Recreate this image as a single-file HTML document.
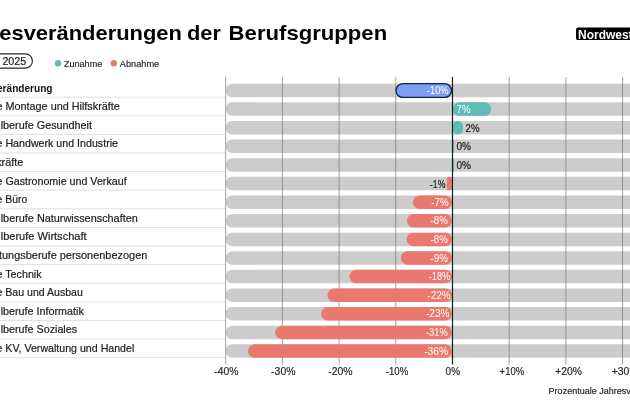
<!DOCTYPE html>
<html lang="de"><head><meta charset="utf-8"><title>Jahresveränderungen der Berufsgruppen</title>
<style>html,body{margin:0;padding:0;background:#fff;overflow:hidden}svg{display:block}</style></head>
<body>
<svg width="630" height="412" viewBox="0 0 630 412" font-family="'Liberation Sans', sans-serif">
<rect width="630" height="412" fill="#fff"/>
<text y="39.7" font-size="20.4" font-weight="700" fill="#000"><tspan x="-0.7" textLength="182.6" lengthAdjust="spacingAndGlyphs">esveränderungen</tspan> <tspan x="187.0" textLength="34.0" lengthAdjust="spacingAndGlyphs">der</tspan> <tspan x="228.6" textLength="158.6" lengthAdjust="spacingAndGlyphs">Berufsgruppen</tspan></text>
<rect x="576" y="27.5" width="70" height="12.6" rx="2.2" fill="#000"/>
<text x="578.0" y="38.5" font-size="11.9" font-weight="700" fill="#fff" textLength="54.6" lengthAdjust="spacingAndGlyphs">Nordwest</text>
<rect x="-20" y="53.8" width="52.4" height="14.3" rx="7.15" fill="#fff" stroke="#262626" stroke-width="1.15"/>
<text x="2.4" y="64.6" font-size="10.6" fill="#222222" stroke="#222222" stroke-width="0.2" textLength="23.8" lengthAdjust="spacingAndGlyphs">2025</text>
<circle cx="58" cy="63.3" r="3.2" fill="#5cbdb5"/>
<text x="64" y="66.7" font-size="9.2" fill="#222222" stroke="#222222" stroke-width="0.15" textLength="38.2" lengthAdjust="spacingAndGlyphs">Zunahme</text>
<circle cx="113.8" cy="63.3" r="3.2" fill="#e9796e"/>
<text x="119.8" y="66.7" font-size="9.2" fill="#222222" stroke="#222222" stroke-width="0.15" textLength="39.4" lengthAdjust="spacingAndGlyphs">Abnahme</text>
<rect x="225.9" y="83.75" width="420" height="13.5" rx="6" fill="#cccccc"/>
<line x1="0" x2="225.5" y1="97.15" y2="97.15" stroke="#dcdcdc" stroke-width="0.9"/>
<text x="-3.0" y="92.20" font-size="10.5" font-weight="700" fill="#111" textLength="55.5" lengthAdjust="spacingAndGlyphs">eränderung</text>
<rect x="225.9" y="102.36" width="420" height="13.5" rx="6" fill="#cccccc"/>
<line x1="0" x2="225.5" y1="115.76" y2="115.76" stroke="#dcdcdc" stroke-width="0.9"/>
<text x="-3.5" y="110.25" font-size="10.5" fill="#222222" stroke="#222222" stroke-width="0.2" textLength="123.3" lengthAdjust="spacingAndGlyphs">e Montage und Hilfskräfte</text>
<rect x="225.9" y="120.97" width="420" height="13.5" rx="6" fill="#cccccc"/>
<line x1="0" x2="225.5" y1="134.37" y2="134.37" stroke="#dcdcdc" stroke-width="0.9"/>
<text x="0.7" y="128.85" font-size="10.5" fill="#222222" stroke="#222222" stroke-width="0.2" textLength="91.3" lengthAdjust="spacingAndGlyphs">lberufe Gesundheit</text>
<rect x="225.9" y="139.58" width="420" height="13.5" rx="6" fill="#cccccc"/>
<line x1="0" x2="225.5" y1="152.98" y2="152.98" stroke="#dcdcdc" stroke-width="0.9"/>
<text x="-3.5" y="147.45" font-size="10.5" fill="#222222" stroke="#222222" stroke-width="0.2" textLength="121.5" lengthAdjust="spacingAndGlyphs">e Handwerk und Industrie</text>
<rect x="225.9" y="158.19" width="420" height="13.5" rx="6" fill="#cccccc"/>
<line x1="0" x2="225.5" y1="171.59" y2="171.59" stroke="#dcdcdc" stroke-width="0.9"/>
<text x="-3.85" y="166.05" font-size="10.5" fill="#222222" stroke="#222222" stroke-width="0.2" textLength="27.2" lengthAdjust="spacingAndGlyphs">kräfte</text>
<rect x="225.9" y="176.80" width="420" height="13.5" rx="6" fill="#cccccc"/>
<line x1="0" x2="225.5" y1="190.20" y2="190.20" stroke="#dcdcdc" stroke-width="0.9"/>
<text x="-3.5" y="184.65" font-size="10.5" fill="#222222" stroke="#222222" stroke-width="0.2" textLength="130.1" lengthAdjust="spacingAndGlyphs">e Gastronomie und Verkauf</text>
<rect x="225.9" y="195.41" width="420" height="13.5" rx="6" fill="#cccccc"/>
<line x1="0" x2="225.5" y1="208.81" y2="208.81" stroke="#dcdcdc" stroke-width="0.9"/>
<text x="-3.5" y="203.25" font-size="10.5" fill="#222222" stroke="#222222" stroke-width="0.2" textLength="30.8" lengthAdjust="spacingAndGlyphs">e Büro</text>
<rect x="225.9" y="214.02" width="420" height="13.5" rx="6" fill="#cccccc"/>
<line x1="0" x2="225.5" y1="227.42" y2="227.42" stroke="#dcdcdc" stroke-width="0.9"/>
<text x="0.7" y="221.85" font-size="10.5" fill="#222222" stroke="#222222" stroke-width="0.2" textLength="137.1" lengthAdjust="spacingAndGlyphs">lberufe Naturwissenschaften</text>
<rect x="225.9" y="232.63" width="420" height="13.5" rx="6" fill="#cccccc"/>
<line x1="0" x2="225.5" y1="246.03" y2="246.03" stroke="#dcdcdc" stroke-width="0.9"/>
<text x="0.7" y="240.45" font-size="10.5" fill="#222222" stroke="#222222" stroke-width="0.2" textLength="85.9" lengthAdjust="spacingAndGlyphs">lberufe Wirtschaft</text>
<rect x="225.9" y="251.24" width="420" height="13.5" rx="6" fill="#cccccc"/>
<line x1="0" x2="225.5" y1="264.64" y2="264.64" stroke="#dcdcdc" stroke-width="0.9"/>
<text x="-1.0" y="259.05" font-size="10.5" fill="#222222" stroke="#222222" stroke-width="0.2" textLength="148.3" lengthAdjust="spacingAndGlyphs">tungsberufe personenbezogen</text>
<rect x="225.9" y="269.85" width="420" height="13.5" rx="6" fill="#cccccc"/>
<line x1="0" x2="225.5" y1="283.25" y2="283.25" stroke="#dcdcdc" stroke-width="0.9"/>
<text x="-3.5" y="277.65" font-size="10.5" fill="#222222" stroke="#222222" stroke-width="0.2" textLength="45.1" lengthAdjust="spacingAndGlyphs">e Technik</text>
<rect x="225.9" y="288.46" width="420" height="13.5" rx="6" fill="#cccccc"/>
<line x1="0" x2="225.5" y1="301.86" y2="301.86" stroke="#dcdcdc" stroke-width="0.9"/>
<text x="-3.5" y="296.25" font-size="10.5" fill="#222222" stroke="#222222" stroke-width="0.2" textLength="86.3" lengthAdjust="spacingAndGlyphs">e Bau und Ausbau</text>
<rect x="225.9" y="307.07" width="420" height="13.5" rx="6" fill="#cccccc"/>
<line x1="0" x2="225.5" y1="320.47" y2="320.47" stroke="#dcdcdc" stroke-width="0.9"/>
<text x="0.7" y="314.85" font-size="10.5" fill="#222222" stroke="#222222" stroke-width="0.2" textLength="83.1" lengthAdjust="spacingAndGlyphs">lberufe Informatik</text>
<rect x="225.9" y="325.68" width="420" height="13.5" rx="6" fill="#cccccc"/>
<line x1="0" x2="225.5" y1="339.08" y2="339.08" stroke="#dcdcdc" stroke-width="0.9"/>
<text x="0.7" y="333.45" font-size="10.5" fill="#222222" stroke="#222222" stroke-width="0.2" textLength="76.4" lengthAdjust="spacingAndGlyphs">lberufe Soziales</text>
<rect x="225.9" y="344.29" width="420" height="13.5" rx="6" fill="#cccccc"/>
<line x1="0" x2="225.5" y1="357.69" y2="357.69" stroke="#dcdcdc" stroke-width="0.9"/>
<text x="-3.5" y="352.05" font-size="10.5" fill="#222222" stroke="#222222" stroke-width="0.2" textLength="137.8" lengthAdjust="spacingAndGlyphs">e KV, Verwaltung und Handel</text>
<line x1="225.70" x2="225.70" y1="77" y2="364.6" stroke="#707070" stroke-width="0.65"/>
<line x1="282.40" x2="282.40" y1="77" y2="364.6" stroke="#707070" stroke-width="0.65"/>
<line x1="339.10" x2="339.10" y1="77" y2="364.6" stroke="#707070" stroke-width="0.65"/>
<line x1="395.80" x2="395.80" y1="77" y2="364.6" stroke="#707070" stroke-width="0.65"/>
<line x1="509.20" x2="509.20" y1="77" y2="364.6" stroke="#707070" stroke-width="0.65"/>
<line x1="565.90" x2="565.90" y1="77" y2="364.6" stroke="#707070" stroke-width="0.65"/>
<line x1="622.60" x2="622.60" y1="77" y2="364.6" stroke="#707070" stroke-width="0.65"/>
<rect x="396.00" y="83.65" width="55.60" height="13.8" rx="6.9" fill="#7d9ef3" stroke="#17214d" stroke-width="1.3"/>
<text x="426.80" y="94.05" font-size="10.1" fill="#fff" textLength="21.9" lengthAdjust="spacingAndGlyphs">-10%</text>
<rect x="452.80" y="102.36" width="38.40" height="13.5" rx="6.75" fill="#5cbdb5"/>
<text x="456.60" y="112.66" font-size="10.1" fill="#fff" textLength="14.0" lengthAdjust="spacingAndGlyphs">7%</text>
<rect x="452.80" y="120.97" width="10.10" height="13.5" rx="5.05" fill="#5cbdb5"/>
<text x="465.50" y="131.72" font-size="10.0" fill="#222222" stroke="#222222" stroke-width="0.2" textLength="14.0" lengthAdjust="spacingAndGlyphs">2%</text>
<rect x="453.00" y="139.58" width="1.00" height="13.5" rx="0.50" fill="#5cbdb5"/>
<text x="456.40" y="150.33" font-size="10.0" fill="#222222" stroke="#222222" stroke-width="0.2" textLength="14.5" lengthAdjust="spacingAndGlyphs">0%</text>
<rect x="453.00" y="158.19" width="1.00" height="13.5" rx="0.50" fill="#5cbdb5"/>
<text x="456.40" y="168.94" font-size="10.0" fill="#222222" stroke="#222222" stroke-width="0.2" textLength="14.5" lengthAdjust="spacingAndGlyphs">0%</text>
<rect x="446.90" y="176.80" width="5.00" height="13.5" rx="2.50" fill="#e9796e"/>
<text x="429.90" y="187.55" font-size="10.0" fill="#222222" stroke="#222222" stroke-width="0.2" textLength="15.5" lengthAdjust="spacingAndGlyphs">-1%</text>
<rect x="412.90" y="195.41" width="39.00" height="13.5" rx="6.75" fill="#e9796e"/>
<text x="431.20" y="205.71" font-size="10.1" fill="#fff" textLength="17.4" lengthAdjust="spacingAndGlyphs">-7%</text>
<rect x="407.00" y="214.02" width="44.90" height="13.5" rx="6.75" fill="#e9796e"/>
<text x="430.60" y="224.32" font-size="10.1" fill="#fff" textLength="17.2" lengthAdjust="spacingAndGlyphs">-8%</text>
<rect x="406.80" y="232.63" width="45.10" height="13.5" rx="6.75" fill="#e9796e"/>
<text x="430.60" y="242.93" font-size="10.1" fill="#fff" textLength="17.2" lengthAdjust="spacingAndGlyphs">-8%</text>
<rect x="400.90" y="251.24" width="51.00" height="13.5" rx="6.75" fill="#e9796e"/>
<text x="430.50" y="261.54" font-size="10.1" fill="#fff" textLength="17.4" lengthAdjust="spacingAndGlyphs">-9%</text>
<rect x="349.50" y="269.85" width="102.40" height="13.5" rx="6.75" fill="#e9796e"/>
<text x="428.80" y="280.15" font-size="10.1" fill="#fff" textLength="21.4" lengthAdjust="spacingAndGlyphs">-18%</text>
<rect x="327.40" y="288.46" width="124.50" height="13.5" rx="6.75" fill="#e9796e"/>
<text x="427.30" y="298.76" font-size="10.1" fill="#fff" textLength="23.4" lengthAdjust="spacingAndGlyphs">-22%</text>
<rect x="321.10" y="307.07" width="130.80" height="13.5" rx="6.75" fill="#e9796e"/>
<text x="426.00" y="317.37" font-size="10.1" fill="#fff" textLength="23.6" lengthAdjust="spacingAndGlyphs">-23%</text>
<rect x="275.20" y="325.68" width="176.70" height="13.5" rx="6.75" fill="#e9796e"/>
<text x="426.00" y="335.98" font-size="10.1" fill="#fff" textLength="21.7" lengthAdjust="spacingAndGlyphs">-31%</text>
<rect x="248.00" y="344.29" width="203.90" height="13.5" rx="6.75" fill="#e9796e"/>
<text x="424.20" y="354.59" font-size="10.1" fill="#fff" textLength="23.9" lengthAdjust="spacingAndGlyphs">-36%</text>
<line x1="452.5" x2="452.5" y1="77" y2="364.6" stroke="#1c1c1c" stroke-width="1.2"/>
<text x="214.20" y="374.5" font-size="10.3" fill="#222222" stroke="#222222" stroke-width="0.15" textLength="24.2" lengthAdjust="spacingAndGlyphs">-40%</text>
<text x="271.10" y="374.5" font-size="10.3" fill="#222222" stroke="#222222" stroke-width="0.15" textLength="24.4" lengthAdjust="spacingAndGlyphs">-30%</text>
<text x="328.20" y="374.5" font-size="10.3" fill="#222222" stroke="#222222" stroke-width="0.15" textLength="24.4" lengthAdjust="spacingAndGlyphs">-20%</text>
<text x="385.80" y="374.5" font-size="10.3" fill="#222222" stroke="#222222" stroke-width="0.15" textLength="22.4" lengthAdjust="spacingAndGlyphs">-10%</text>
<text x="445.60" y="374.5" font-size="10.3" fill="#222222" stroke="#222222" stroke-width="0.15" textLength="14.4" lengthAdjust="spacingAndGlyphs">0%</text>
<text x="499.60" y="374.5" font-size="10.3" fill="#222222" stroke="#222222" stroke-width="0.15" textLength="24.6" lengthAdjust="spacingAndGlyphs">+10%</text>
<text x="555.20" y="374.5" font-size="10.3" fill="#222222" stroke="#222222" stroke-width="0.15" textLength="26.8" lengthAdjust="spacingAndGlyphs">+20%</text>
<text x="611.80" y="374.5" font-size="10.3" fill="#222222" stroke="#222222" stroke-width="0.15" textLength="26.8" lengthAdjust="spacingAndGlyphs">+30%</text>
<text x="548.6" y="393.8" font-size="9.1" fill="#222222" stroke="#222222" stroke-width="0.15" textLength="128.4" lengthAdjust="spacingAndGlyphs">Prozentuale Jahresveränderung</text>
</svg>
</body></html>
